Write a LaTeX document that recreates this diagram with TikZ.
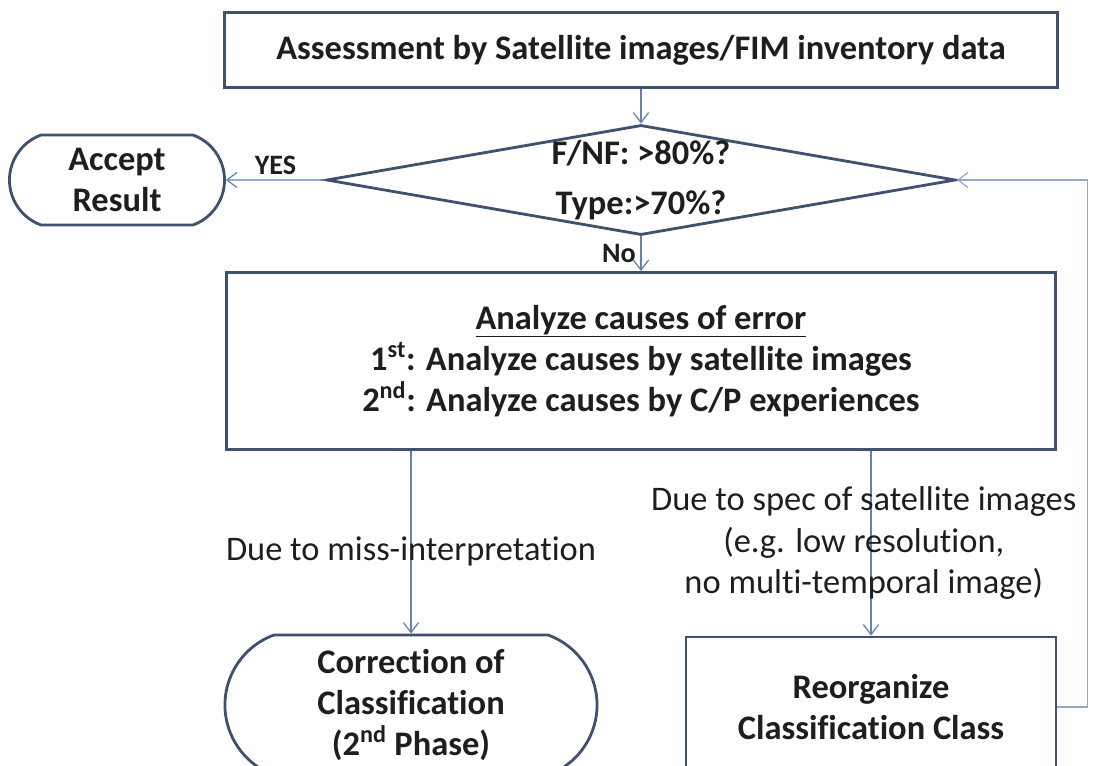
\documentclass[tikz,border=0pt]{standalone}
\usepackage{fontspec}
\setmainfont{Carlito}[Ligatures=NoCommon]
\usetikzlibrary{shapes.geometric,shapes.misc,arrows.meta}
\definecolor{boxline}{RGB}{62,82,112}
\definecolor{flowline}{RGB}{100,130,172}
\definecolor{backline}{RGB}{150,168,196}
\definecolor{ink}{RGB}{30,30,30}
\tikzset{
  block/.style={draw=boxline, line width=2pt, fill=white, text=ink, align=center,
    font=\fontsize{24.5}{29.2}\selectfont\bfseries, inner sep=0pt},
  terminal/.style={block, rounded rectangle, rounded rectangle arc length=140},
  decision/.style={draw=boxline, line width=2pt, diamond, inner sep=0pt},
  flow/.style={draw=flowline, line width=0.9pt, -{Straight Barb[length=2.5mm,width=3.8mm]}},
  note/.style={font=\fontsize{24.5}{29.5}\selectfont, text=ink, align=center},
  answer/.style={font=\fontsize{20}{24}\selectfont\bfseries, text=ink}
}
\begin{document}
\begin{tikzpicture}[x=0.025cm, y=-0.025cm]
\useasboundingbox (0,0) rectangle (1094,765);
\clip (0,0) rectangle (1094,765);
\node (top) [block, minimum width=20.8cm, minimum height=1.875cm] at (641,50) {Assessment by Satellite images/FIM inventory data};
\node (dec) [decision, minimum width=15.725cm, minimum height=2.75cm,
  label={[align=center, text=ink, font=\fontsize{24.5}{36}\selectfont\bfseries]center:F/NF: >80\%?\\Type:>70\%?}] at (641,180) {};
\node (acc) [terminal, minimum width=5.375cm, minimum height=2.25cm] at (117,180) {Accept\\Result};
\node (big) [block, minimum width=20.725cm, minimum height=4.425cm] at (641,361) {\underline{Analyze causes of error}\\1\textsuperscript{st}: Analyze causes by satellite images\\2\textsuperscript{nd}: Analyze causes by C/P experiences};
\node (corr) [terminal, minimum width=9.3cm, minimum height=3.5cm] at (411,705) {Correction of\\Classification\\(2\textsuperscript{nd} Phase)};
\node (reorg) [block, minimum width=9.25cm, minimum height=3.5cm] at (871,707) {Reorganize\\Classification Class};
\draw[flow] (top) -- (dec);
\draw[flow] (dec) -- node[answer, above] {YES} (acc);
\draw[flow] (dec) -- node[answer, left] {No} (big);
\draw[flow] (big.south -| corr.north) -- node[note, pos=0.55] {Due to miss-interpretation} (corr.north);
\draw[flow] (big.south -| reorg.north) -- node[note, xshift=-0.18cm] {Due to spec of satellite images\\(e.g. low resolution,\\no multi-temporal image)} (reorg.north);
\draw[flow, draw=backline] (reorg.east) -- ++(30,0) |- (dec.east);
\end{tikzpicture}
\end{document}
